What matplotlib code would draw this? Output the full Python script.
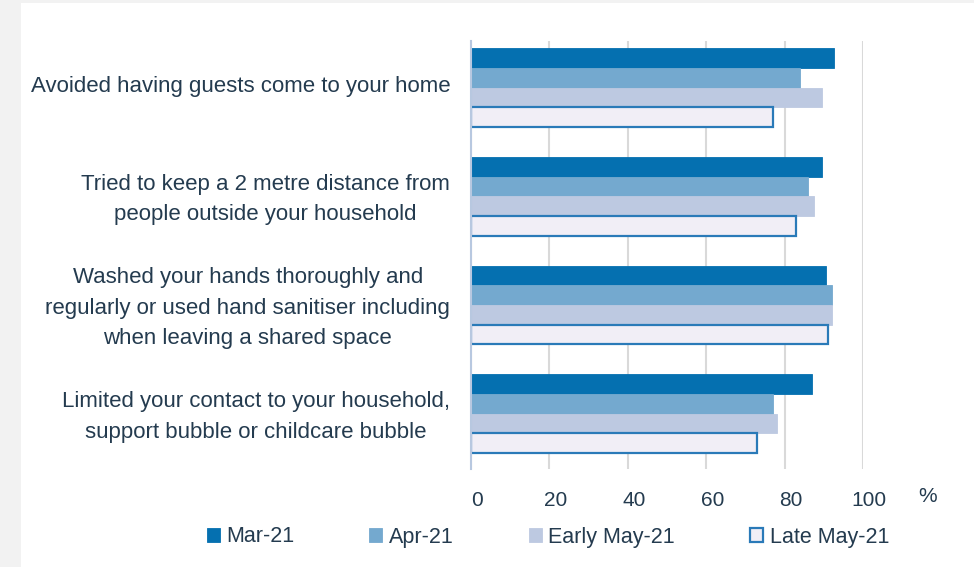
import matplotlib
matplotlib.use("Agg")
import matplotlib.pyplot as plt
import matplotlib.patches as mpatches
import matplotlib.transforms as mtransforms
import numpy as np

plt.rcParams['font.family'] = ['Liberation Sans Narrow', 'Liberation Sans', 'DejaVu Sans']

categories = [
    "Avoided having guests come to your home",
    "Tried to keep a 2 metre distance from\npeople outside your household",
    "Washed your hands thoroughly and\nregularly or used hand sanitiser including\nwhen leaving a shared space",
    "Limited your contact to your household,\nsupport bubble or childcare bubble",
]
series_names = ["Mar-21", "Apr-21", "Early May-21", "Late May-21"]
mar21 = [92.5, 89.5, 90.5, 87]
apr21 = [84, 86, 92, 77]
early_may21 = [89.5, 87.5, 92, 78]
late_may21 = [77, 83, 91, 73]
x_ticks = [0, 20, 40, 60, 80, 100]

series_values = [mar21, apr21, early_may21, late_may21]
fills = ["#0570b0", "#74a9cf", "#bdc9e1", "#f1eef6"]
edges = ["#0570b0", "#74a9cf", "#bdc9e1", "#2a7ab8"]
text_color = "#243b4f"

W, H = 974, 567
fig = plt.figure(figsize=(W / 100, H / 100), dpi=100, facecolor="white")

# light grey frame strips on the left and top edges
fig.patches.append(mpatches.Rectangle((0, 0), 21 / W, 1, transform=fig.transFigure,
                                      facecolor="#f2f2f2", edgecolor="none", zorder=-10))
fig.patches.append(mpatches.Rectangle((0, 1 - 3 / H), 1, 3 / H, transform=fig.transFigure,
                                      facecolor="#f2f2f2", edgecolor="none", zorder=-10))

left, right = 471 / W, 863 / W
top, bottom = 1 - 41 / H, 1 - 469 / H
ax = fig.add_axes([left, bottom, right - left, top - bottom])

y = np.arange(len(categories))
bar_h = 0.181
offsets = (np.arange(len(series_names)) - 1.5) * bar_h

for i, (name, vals) in enumerate(zip(series_names, series_values)):
    lw = 1.6 if i == 3 else 0.6
    ax.barh(y + offsets[i], vals, height=bar_h, color=fills[i], edgecolor=edges[i],
            linewidth=lw, label=name, zorder=3)

ax.set_xlim(0, 100)
ax.set_ylim(3.51, -0.43)
ax.set_xticks(x_ticks)
ax.set_xticklabels([str(t) for t in x_ticks], fontsize=15, color=text_color)
ax.set_yticks(y)
ax.set_yticklabels(categories, fontsize=16, color=text_color, linespacing=1.6,
                   multialignment="center")
ax.tick_params(axis="y", length=0, pad=15)
ax.tick_params(axis="x", length=0, pad=16)

# shift the x tick labels slightly to the right of their gridlines
shift = mtransforms.ScaledTranslation(6 / 100, 0, fig.dpi_scale_trans)
for lbl in ax.get_xticklabels():
    lbl.set_transform(lbl.get_transform() + shift)
# lift the category labels a little
lift = mtransforms.ScaledTranslation(0, 4 / 100, fig.dpi_scale_trans)
for lbl in ax.get_yticklabels():
    lbl.set_transform(lbl.get_transform() + lift)

ax.grid(axis="x", color="#d9d9d9", linewidth=1.5, zorder=0)
for s in ["top", "right", "bottom"]:
    ax.spines[s].set_visible(False)
ax.spines["left"].set_color("#b8c8e0")
ax.spines["left"].set_linewidth(1.5)
ax.spines["left"].set_zorder(4)

fig.text(928 / W, 1 - 496 / H, "%", fontsize=15, color=text_color, ha="center", va="center")

leg = fig.legend(loc="center left", bbox_to_anchor=(198 / W, 1 - 537 / H), ncol=4,
                 frameon=False, fontsize=15.5, handlelength=0.6, handleheight=0.6,
                 handletextpad=0.3, columnspacing=3.5, borderaxespad=0)
for t in leg.get_texts():
    t.set_color(text_color)

fig.savefig("out.png", dpi=100, facecolor="white")
